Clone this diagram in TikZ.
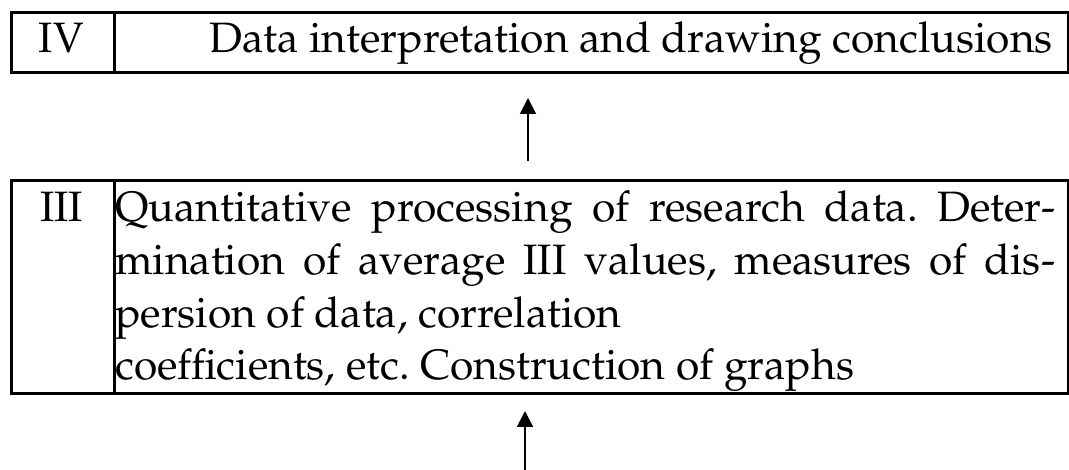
\documentclass[tikz,border=0pt]{standalone}
\usepackage[T1]{fontenc}
\usepackage{mathpazo}
\usetikzlibrary{arrows.meta}
\frenchspacing
\begin{document}
\begin{tikzpicture}[x=1pt,y=-1pt,
  cell/.style={draw, line width=2.7pt, inner sep=0pt, anchor=north west},
  txt/.style={inner sep=0pt, font=\fontsize{42.5}{52.7}\selectfont},
  flow/.style={line width=2pt, -{Triangle[length=16pt,width=16pt]}}]
\useasboundingbox (0,0) rectangle (1069,470);
% stage IV
\node[cell, minimum width=103pt, minimum height=60pt] (numIV) at (10,11) {};
\node[cell, minimum width=954pt, minimum height=60pt] (boxIV) at (113,11) {};
\node[txt, anchor=base] (labIV) at (61.5,53) {IV};
\node[txt, anchor=base east] (textIV) at (1053,53) {Data interpretation and drawing conclusions};
% stage III
\node[cell, minimum width=103pt, minimum height=213pt] (numIII) at (10,179) {};
\node[cell, minimum width=954pt, minimum height=213pt] (boxIII) at (113,179) {};
\node[txt, anchor=base] (labIII) at (61.5,222) {III};
\node[txt, anchor=base west] (lineA) at (115,222) {\makebox[940pt][s]{Quantitative processing of research data. Deter-}};
\node[txt, anchor=base west] (lineB) at (115,274.7) {\makebox[940pt][s]{mination of average III values, measures of dis-}};
\node[txt, anchor=base west] (lineC) at (115,327.4) {persion of data, correlation};
\node[txt, anchor=base west] (lineD) at (115,380) {coefficients, etc. Construction of graphs};
% flow arrows
\coordinate (tailA) at (528,161);
\coordinate (tipA) at (528,98);
\coordinate (tailB) at (525,470);
\coordinate (tipB) at (525,411);
\draw[flow] (tailA) -- (tipA);
\draw[flow] (tailB) -- (tipB);
\end{tikzpicture}
\end{document}
